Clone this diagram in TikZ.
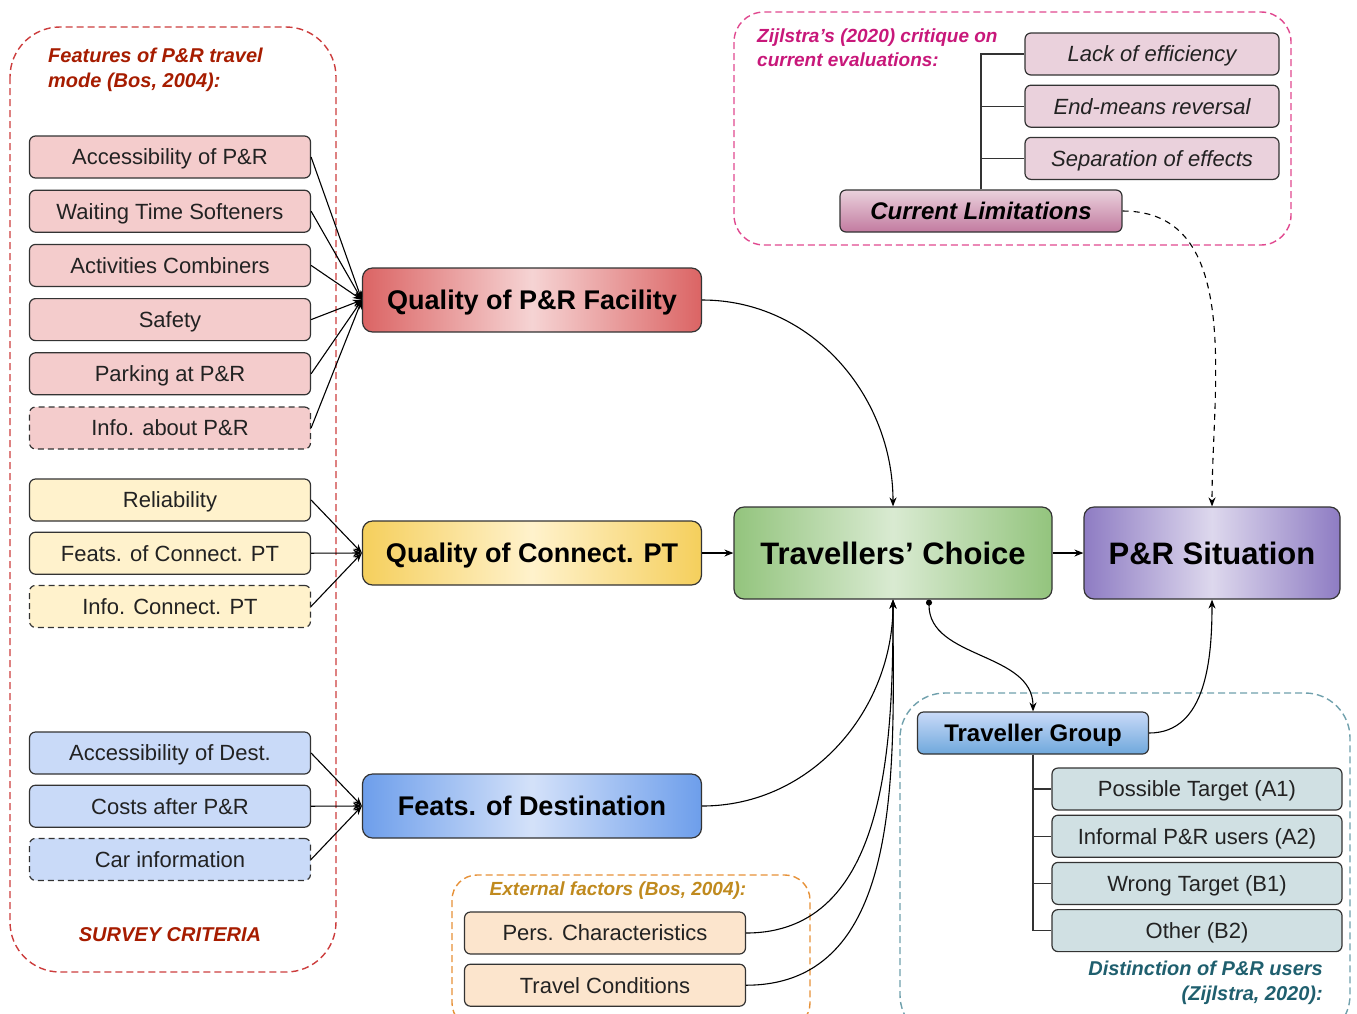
\documentclass[tikz,border=0pt]{standalone}
\usepackage{fontspec}
\setmainfont{Liberation Sans}
\usepackage{tikz}
\usetikzlibrary{shapes.geometric, arrows, arrows.meta, positioning}

\definecolor{boxline}{HTML}{333333}
\definecolor{txt}{HTML}{222222}
\definecolor{pinkfill}{HTML}{F4CCCC}
\definecolor{yellowfill}{HTML}{FFF2CC}
\definecolor{bluefill}{HTML}{C9DAF8}
\definecolor{critfill}{HTML}{EAD1DC}
\definecolor{groupfill}{HTML}{D0E0E3}
\definecolor{extfill}{HTML}{FCE5CD}
\definecolor{redmain}{HTML}{DB6464}
\definecolor{yellowmain}{HTML}{F5CF5C}
\definecolor{bluemain}{HTML}{6D9EEB}
\definecolor{greenmain}{HTML}{93C47D}
\definecolor{purplemain}{HTML}{8E7CC3}
\definecolor{critdark}{HTML}{C27BA0}
\definecolor{groupdark}{HTML}{6FA8DC}
\definecolor{redframe}{HTML}{CC3D3D}
\definecolor{redtitle}{HTML}{A61C00}
\definecolor{pinkframe}{HTML}{E0488F}
\definecolor{pinktitle}{HTML}{C8187A}
\definecolor{tealframe}{HTML}{6FA0AC}
\definecolor{tealtitle}{HTML}{1F5F6E}
\definecolor{orangeframe}{HTML}{E69138}
\definecolor{orangetitle}{HTML}{C08A1E}

\tikzstyle{box} = [rectangle, rounded corners=6pt, minimum height=42pt, text height=15.8pt, text depth=0pt, text centered, draw=boxline, line width=1.2pt, text=txt, font=\fontsize{22}{26}\selectfont]
\tikzstyle{pinkbox} = [box, minimum width=281pt, fill=pinkfill]
\tikzstyle{yellowbox} = [box, minimum width=281pt, fill=yellowfill]
\tikzstyle{bluebox} = [box, minimum width=281pt, fill=bluefill]
\tikzstyle{critbox} = [box, minimum width=254pt, fill=critfill, font=\fontsize{22}{26}\selectfont\itshape]
\tikzstyle{groupbox} = [box, minimum width=290pt, fill=groupfill]
\tikzstyle{extbox} = [box, minimum width=281pt, fill=extfill]
\tikzstyle{headbox} = [box, text height=17.3pt, text=black]
\tikzstyle{optional} = [dash pattern=on 6pt off 4pt]
\tikzstyle{mainbox} = [rectangle, rounded corners=10pt, minimum width=339pt, minimum height=64pt, text height=19.4pt, text depth=0pt, draw=boxline, line width=1.2pt, text=black, font=\fontsize{27}{32}\selectfont\bfseries]
\tikzstyle{bigbox} = [mainbox, minimum height=92pt, text height=22.3pt, font=\fontsize{31}{36}\selectfont\bfseries]
\tikzstyle{frame} = [dash pattern=on 7pt off 4pt, line width=1.4pt]
\tikzstyle{heading} = [inner sep=0pt, font=\fontsize{20}{25}\selectfont\bfseries\itshape]
\tikzstyle{arrow} = [line width=1.1pt, ->, >={Stealth[length=9pt, width=7pt]}]
\tikzstyle{tree} = [line width=1.4pt, draw=boxline]

\begin{document}
\begin{tikzpicture}[x=1pt, y=-1pt, node distance=11pt]
	\clip (0,0) rectangle (1357,1013);

	% dashed groups
	\draw [frame, draw=redframe, rounded corners=50pt] (10,27) rectangle (336,972);
	\draw [frame, draw=pinkframe, rounded corners=30pt] (734,12) rectangle (1291,245);
	\draw [frame, draw=tealframe, rounded corners=45pt] (900,693) rectangle (1350,1040);
	\draw [frame, draw=orangeframe, rounded corners=25pt] (452,875) rectangle (810,1028);

	\node (feattitle) [heading, text=redtitle, anchor=north west, align=left] at (48,48) {Features of P\&R travel\\mode (Bos, 2004):};
	\node (survey) [heading, text=redtitle] at (170,935) {SURVEY CRITERIA};
	\node (crittitle) [heading, text=pinktitle, anchor=north west, align=left, font=\fontsize{19}{24}\selectfont\bfseries\itshape] at (757,29) {Zijlstra’s (2020) critique on\\current evaluations:};
	\node (exttitle) [heading, text=orangetitle, font=\fontsize{19}{24}\selectfont\bfseries\itshape] at (618,891) {External factors (Bos, 2004):};
	\node (usertitle) [heading, text=tealtitle, anchor=north east, align=right] at (1323,961) {Distinction of P\&R users\\(Zijlstra, 2020):};

	% survey criteria
	\node (accpr) [pinkbox] at (170,157) {Accessibility of P\&R};
	\node (waiting) [pinkbox, below=of accpr] {Waiting Time Softeners};
	\node (activities) [pinkbox, below=of waiting] {Activities Combiners};
	\node (safety) [pinkbox, below=of activities] {Safety};
	\node (parking) [pinkbox, below=of safety] {Parking at P\&R};
	\node (infopr) [pinkbox, optional, below=of parking] {Info. about P\&R};

	\node (reliab) [yellowbox] at (170,500) {Reliability};
	\node (featpt) [yellowbox, below=10pt of reliab] {Feats. of Connect. PT};
	\node (infopt) [yellowbox, optional, below=10pt of featpt] {Info. Connect. PT};

	\node (accdest) [bluebox] at (170,753) {Accessibility of Dest.};
	\node (costs) [bluebox, below=10pt of accdest] {Costs after P\&R};
	\node (carinfo) [bluebox, optional, below=10pt of costs] {Car information};

	% main chain
	\node (facility) [mainbox, left color=redmain, right color=redmain, middle color=pinkfill!85] at (532,300) {Quality of P\&R Facility};
	\node (connect) [mainbox, left color=yellowmain, right color=yellowmain, middle color=yellowfill] at (532,553) {Quality of Connect. PT};
	\node (dest) [mainbox, left color=bluemain, right color=bluemain, middle color=bluefill!80] at (532,806) {Feats. of Destination};
	\node (choice) [bigbox, minimum width=318pt, left color=greenmain, right color=greenmain, middle color=greenmain!35] at (893,553) {Travellers’ Choice};
	\node (situation) [bigbox, minimum width=256pt, left color=purplemain, right color=purplemain, middle color=purplemain!30] at (1212,553) {P\&R Situation};

	% critique
	\node (lack) [critbox] at (1152,54) {Lack of efficiency};
	\node (endmeans) [critbox, below=9pt of lack] {End-means reversal};
	\node (separation) [critbox, below=9pt of endmeans] {Separation of effects};
	\node (limits) [headbox, minimum width=282pt, top color=critfill, bottom color=critdark, font=\fontsize{24}{28}\selectfont\bfseries\itshape] at (981,211) {Current Limitations};

	% traveller groups
	\node (group) [headbox, minimum width=231pt, top color=bluefill, bottom color=groupdark, font=\fontsize{24}{28}\selectfont\bfseries] at (1033,733) {Traveller Group};
	\node (possible) [groupbox] at (1197,789) {Possible Target (A1)};
	\node (informal) [groupbox, below=4pt of possible] {Informal P\&R users (A2)};
	\node (wrong) [groupbox, below=4pt of informal] {Wrong Target (B1)};
	\node (other) [groupbox, below=4pt of wrong] {Other (B2)};

	% external factors
	\node (pers) [extbox] at (605,933) {Pers. Characteristics};
	\node (conditions) [extbox, below=9pt of pers] {Travel Conditions};

	\draw [arrow] (accpr.east) -- (facility.west);
	\draw [arrow] (waiting.east) -- (facility.west);
	\draw [arrow] (activities.east) -- (facility.west);
	\draw [arrow] (safety.east) -- (facility.west);
	\draw [arrow] (parking.east) -- (facility.west);
	\draw [arrow] (infopr.east) -- (facility.west);

	\draw [arrow] (reliab.east) -- (connect.west);
	\draw [arrow] (featpt.east) -- (connect.west);
	\draw [arrow] (infopt.east) -- (connect.west);

	\draw [arrow] (accdest.east) -- (dest.west);
	\draw [arrow] (costs.east) -- (dest.west);
	\draw [arrow] (carinfo.east) -- (dest.west);

	\draw [arrow] (facility.east) to[out=0, in=90] (choice.north);
	\draw [arrow] (connect.east) -- (choice.west);
	\draw [arrow] (choice.east) -- (situation.west);
	\draw [arrow] (dest.east) to[out=0, in=-90] (choice.south);
	\draw [arrow] (pers.east) to[out=0, in=-90] (choice.south);
	\draw [arrow] (conditions.east) to[out=0, in=-90] (choice.south);

	\draw [arrow, {Circle[length=6pt]}->] ([xshift=36pt]choice.south) to[out=-90, in=90] (group.north);
	\draw [arrow] (group.east) to[out=0, in=-90] (situation.south);
	\draw [arrow, dash pattern=on 6pt off 5pt] (limits.east) to[out=0, in=90] (situation.north);

	\draw [tree] (limits.north) |- (lack.west);
	\draw [tree] (limits.north) |- (endmeans.west);
	\draw [tree] (limits.north) |- (separation.west);

	\draw [tree] (group.south) |- (possible.west);
	\draw [tree] (group.south) |- (informal.west);
	\draw [tree] (group.south) |- (wrong.west);
	\draw [tree] (group.south) |- (other.west);
\end{tikzpicture}
\end{document}
